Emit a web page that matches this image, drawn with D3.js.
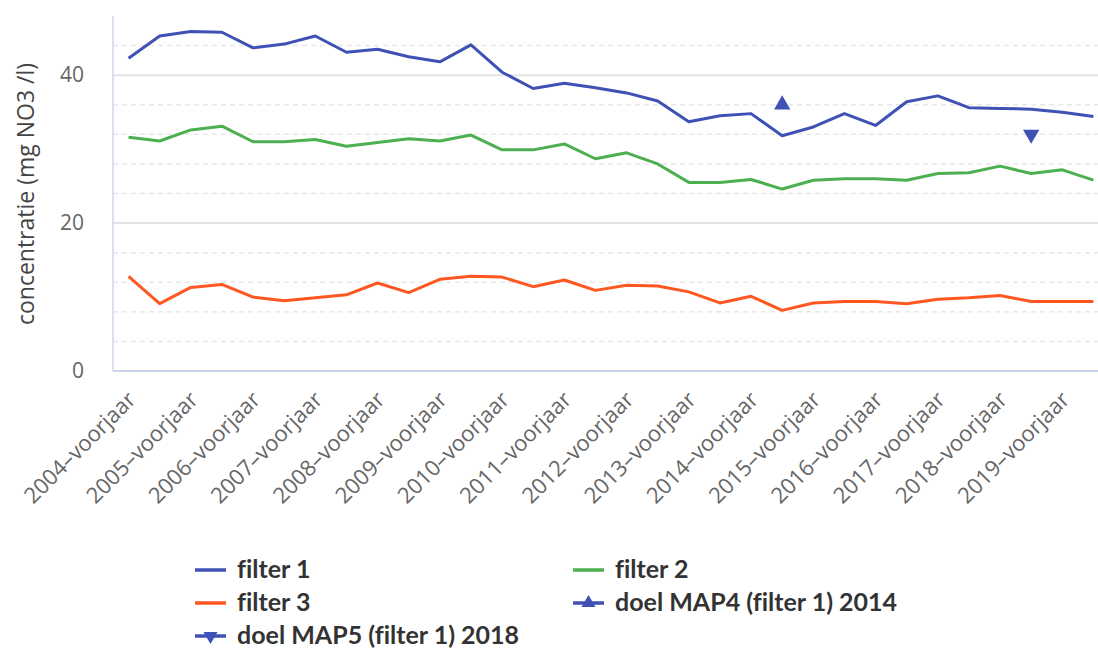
<!DOCTYPE html>
<html>
<head>
<meta charset="utf-8">
<script src="https://cdn.jsdelivr.net/npm/d3@7"></script>
<style>
  body { margin: 0; background: #fff; }
  svg { display: block; }
  .legend text { font-variant-ligatures: none; }
</style>
</head>
<body>
<svg id="chart" width="1098" height="651"></svg>
<script>
var YEARS = d3.range(2004, 2020);
var SEASONS = ["voorjaar", "najaar"];

// one point per half year, 2004-voorjaar .. 2019-najaar
var categories = [];
YEARS.forEach(function (y) {
    SEASONS.forEach(function (s) { categories.push(y + "\u2013" + s); });
});

var filter1 = [42.3, 45.3, 45.9, 45.8, 43.7, 44.2, 45.3, 43.1, 43.5, 42.5, 41.8, 44.1, 40.4, 38.2, 38.9, 38.3,
               37.6, 36.5, 33.7, 34.5, 34.8, 31.8, 33.0, 34.8, 33.2, 36.4, 37.2, 35.6, 35.5, 35.4, 35.0, 34.4];
var filter2 = [31.6, 31.1, 32.6, 33.1, 31.0, 31.0, 31.3, 30.4, 30.9, 31.4, 31.1, 31.9, 29.9, 29.9, 30.7, 28.7,
               29.5, 28.0, 25.5, 25.5, 25.9, 24.6, 25.8, 26.0, 26.0, 25.8, 26.7, 26.8, 27.7, 26.7, 27.2, 25.8];
var filter3 = [12.8, 9.1, 11.3, 11.7, 10.0, 9.5, 9.9, 10.3, 11.9, 10.6, 12.4, 12.8, 12.7, 11.4, 12.3, 10.9,
               11.6, 11.5, 10.7, 9.2, 10.1, 8.2, 9.2, 9.4, 9.4, 9.1, 9.7, 9.9, 10.2, 9.4, 9.4, 9.4];

var doelMap4 = { cat: "2014\u2013najaar", value: 36 };
var doelMap5 = { cat: "2018\u2013najaar", value: 32 };

var yMajorTicks = [0, 20, 40];
var yMinorTicks = [4, 8, 12, 16, 24, 28, 32, 36, 44];

var series = [
    { name: "filter 1", values: filter1, color: "#3f51b5" },
    { name: "filter 2", values: filter2, color: "#4caf50" },
    { name: "filter 3", values: filter3, color: "#ff5722" }
];

var PLOT_LEFT = 113, PLOT_RIGHT = 1109, PLOT_TOP = 16, PLOT_BOTTOM = 371;
var FONT = "'Open Sans', sans-serif";

var svg = d3.select("#chart");

var x = d3.scalePoint().domain(categories).range([PLOT_LEFT, PLOT_RIGHT]).padding(0.5);
var y = d3.scaleLinear().domain([0, 48]).range([PLOT_BOTTOM, PLOT_TOP]);

// grid
svg.append("g").selectAll("line").data(yMinorTicks).enter().append("line")
    .attr("x1", PLOT_LEFT).attr("x2", PLOT_RIGHT)
    .attr("y1", function (d) { return y(d); }).attr("y2", function (d) { return y(d); })
    .attr("stroke", "#e8e8e8").attr("stroke-width", 1.5).attr("stroke-dasharray", "5,4");

svg.append("g").selectAll("line").data(yMajorTicks.filter(function (d) { return d > 0; })).enter().append("line")
    .attr("x1", PLOT_LEFT).attr("x2", PLOT_RIGHT)
    .attr("y1", function (d) { return y(d); }).attr("y2", function (d) { return y(d); })
    .attr("stroke", "#e3e3e3").attr("stroke-width", 2);

// axis lines
svg.append("line").attr("x1", PLOT_LEFT).attr("x2", PLOT_LEFT).attr("y1", PLOT_TOP).attr("y2", PLOT_BOTTOM)
    .attr("stroke", "#ccd6eb").attr("stroke-width", 1.5);
svg.append("line").attr("x1", PLOT_LEFT).attr("x2", PLOT_RIGHT).attr("y1", PLOT_BOTTOM).attr("y2", PLOT_BOTTOM)
    .attr("stroke", "#ccd6eb").attr("stroke-width", 2);

// y labels
var yAxis = d3.axisLeft(y).tickValues(yMajorTicks).tickSize(0).tickPadding(29);
var gy = svg.append("g").attr("transform", "translate(" + PLOT_LEFT + ",0)").call(yAxis);
gy.select(".domain").remove();
gy.selectAll("text").attr("font-family", FONT).attr("font-size", 21).attr("fill", "#666");

svg.append("text")
    .attr("transform", "translate(34,194) rotate(-90)")
    .attr("text-anchor", "middle")
    .attr("font-family", FONT).attr("font-size", 23).attr("fill", "#444")
    .text("concentratie (mg NO3 /l)");

// x labels: only the spring ones
var xAxis = d3.axisBottom(x)
    .tickValues(categories.filter(function (d, i) { return i % 2 == 0; }))
    .tickSize(0);
var gx = svg.append("g").attr("transform", "translate(0," + PLOT_BOTTOM + ")").call(xAxis);
gx.select(".domain").remove();
gx.selectAll("text")
    .attr("font-family", FONT).attr("font-size", 22).attr("fill", "#666")
    .attr("text-anchor", "end")
    .attr("dy", null)
    .attr("y", 0).attr("x", 0)
    .attr("transform", "translate(8,30) rotate(-45)");

// lines
var line = d3.line()
    .x(function (d, i) { return x(categories[i]); })
    .y(function (d) { return y(d); });

series.forEach(function (s) {
    svg.append("path")
        .datum(s.values)
        .attr("d", line)
        .attr("fill", "none")
        .attr("stroke", s.color)
        .attr("stroke-width", 3)
        .attr("stroke-linejoin", "round");
});

// target markers
function triangle(size) {
    return d3.symbol().type(d3.symbolTriangle).size(size)();
}
svg.append("path").attr("d", triangle(115))
    .attr("transform", "translate(" + x(doelMap4.cat) + "," + y(doelMap4.value) + ")")
    .attr("fill", "#3f51b5");
svg.append("path").attr("d", triangle(115))
    .attr("transform", "translate(" + x(doelMap5.cat) + "," + y(doelMap5.value) + ") rotate(180)")
    .attr("fill", "#3f51b5");

// legend
var legendItems = [
    { name: "filter 1", color: "#3f51b5", marker: null, col: 0, row: 0 },
    { name: "filter 2", color: "#4caf50", marker: null, col: 1, row: 0 },
    { name: "filter 3", color: "#ff5722", marker: null, col: 0, row: 1 },
    { name: "doel MAP4 (filter 1) 2014", color: "#3f51b5", marker: "up", col: 1, row: 1 },
    { name: "doel MAP5 (filter 1) 2018", color: "#3f51b5", marker: "down", col: 0, row: 2 }
];
var LEGEND_X = [195, 573], LEGEND_Y = 570, LEGEND_ROW = 33;

var legend = svg.append("g").attr("class", "legend");
legendItems.forEach(function (item) {
    var g = legend.append("g")
        .attr("transform", "translate(" + LEGEND_X[item.col] + "," + (LEGEND_Y + item.row * LEGEND_ROW) + ")");
    g.append("line").attr("x1", 0).attr("x2", 31).attr("y1", 0).attr("y2", 0)
        .attr("stroke", item.color).attr("stroke-width", 3.5);
    if (item.marker) {
        g.append("path").attr("d", triangle(85))
            .attr("transform", "translate(15.5,0)" + (item.marker == "down" ? " rotate(180)" : ""))
            .attr("fill", item.color);
    }
    g.append("text")
        .attr("x", 42).attr("y", 8)
        .attr("font-family", "Lato, sans-serif").attr("font-weight", "bold")
        .attr("font-size", 25).attr("fill", "#333")
        .text(item.name);
});
</script>
</body>
</html>
